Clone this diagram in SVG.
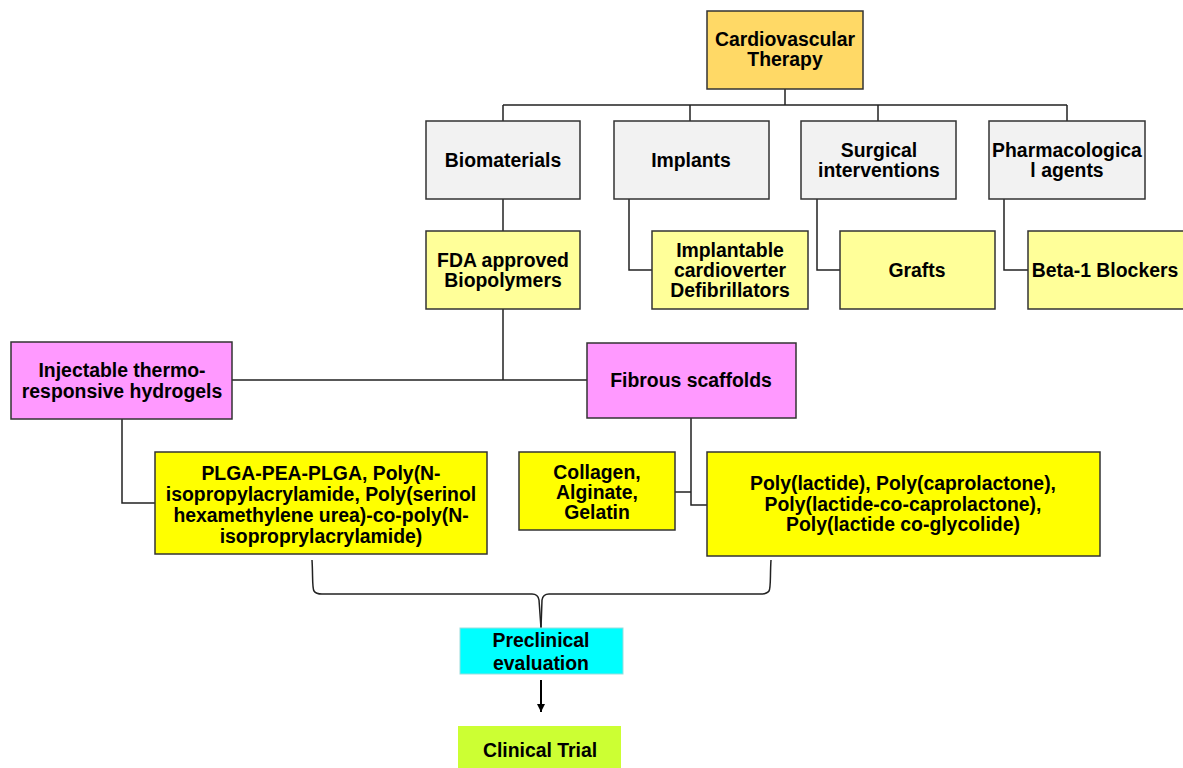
<svg xmlns="http://www.w3.org/2000/svg" width="1183" height="768" viewBox="0 0 1183 768">
<defs>
<style>
.b{stroke:#333;stroke-width:1.5}
.t{font-family:"Liberation Sans",Arial,sans-serif;font-weight:bold;font-size:19.4px;fill:#000;text-anchor:middle}
.c{fill:none;stroke:#222;stroke-width:1.5}
</style>
<marker id="ah" markerWidth="8" markerHeight="8" refX="4" refY="7" orient="auto" markerUnits="userSpaceOnUse">
<path d="M0,0 L8,0 L4,8 Z" fill="#000" transform="rotate(-90 4 4)"/>
</marker>
<marker id="arr" markerWidth="10" markerHeight="10" refX="8" refY="4" orient="auto" markerUnits="userSpaceOnUse">
<path d="M0,0 L8,4 L0,8 Z" fill="#000"/>
</marker>
</defs>
<rect width="1183" height="768" fill="#fff"/>
<g id="connectors">
<path class="c" d="M785,89 V105 M503,105 H1067 M503,105 V121 M690,105 V121 M878,105 V121 M1067,105 V121"/>
<path class="c" d="M503,199 V231"/>
<path class="c" d="M629,199 V270 H652"/>
<path class="c" d="M817,199 V270 H840"/>
<path class="c" d="M1004,199 V270 H1028"/>
<path class="c" d="M503,309 V380 M232,380 H587"/>
<path class="c" d="M122,419 V503 H155"/>
<path class="c" d="M691,418 V505 H707 M675,492 H691"/>
<path class="c" d="M312,560 C313,575 312,588 314,591 Q316,594 322,594 H532 Q538,594 539,600 L541,628"/>
<path class="c" d="M771,560 C770,575 771,588 769,591 Q767,594 761,594 H549 Q543,594 542,600 L541,628"/>
<path d="M541,680 V712" stroke="#000" stroke-width="2" fill="none" marker-end="url(#arr)"/>
</g>
<g id="cardio"><rect class="b" x="707" y="11" width="156" height="78" fill="#FFD966"/><text class="t" x="785" y="46">Cardiovascular</text><text class="t" x="785" y="66">Therapy</text></g>
<g id="biomaterials"><rect class="b" x="426" y="121" width="154" height="78" fill="#F2F2F2"/><text class="t" x="503" y="167">Biomaterials</text></g>
<g id="implants"><rect class="b" x="614" y="121" width="155" height="78" fill="#F2F2F2"/><text class="t" x="691" y="167">Implants</text></g>
<g id="surgical"><rect class="b" x="801" y="121" width="155" height="78" fill="#F2F2F2"/><text class="t" x="879" y="157">Surgical</text><text class="t" x="879" y="177">interventions</text></g>
<g id="pharma"><rect class="b" x="989" y="121" width="156" height="78" fill="#F2F2F2"/><text class="t" x="1067" y="157">Pharmacologica</text><text class="t" x="1067" y="177">l agents</text></g>
<g id="fda"><rect class="b" x="426" y="231" width="154" height="78" fill="#FFFF99"/><text class="t" x="503" y="267">FDA approved</text><text class="t" x="503" y="287">Biopolymers</text></g>
<g id="icd"><rect class="b" x="652" y="231" width="156" height="78" fill="#FFFF99"/><text class="t" x="730" y="257">Implantable</text><text class="t" x="730" y="277">cardioverter</text><text class="t" x="730" y="297">Defibrillators</text></g>
<g id="grafts"><rect class="b" x="840" y="231" width="155" height="78" fill="#FFFF99"/><text class="t" x="917" y="277">Grafts</text></g>
<g id="beta"><rect class="b" x="1028" y="231" width="157" height="78" fill="#FFFF99"/><text class="t" x="1105" y="277">Beta-1 Blockers</text></g>
<g id="hydrogels"><rect class="b" x="11" y="342" width="221" height="77" fill="#FF99FF"/><text class="t" x="122" y="377">Injectable thermo-</text><text class="t" x="122" y="398">responsive hydrogels</text></g>
<g id="fibrous"><rect class="b" x="587" y="343" width="209" height="75" fill="#FF99FF"/><text class="t" x="691" y="387">Fibrous scaffolds</text></g>
<g id="plga"><rect class="b" x="155" y="452" width="332" height="102" fill="#FFFF00"/><text class="t" x="321" y="480">PLGA-PEA-PLGA, Poly(N-</text><text class="t" x="321" y="501">isopropylacrylamide, Poly(serinol</text><text class="t" x="321" y="522">hexamethylene urea)-co-poly(N-</text><text class="t" x="321" y="543">isoproprylacrylamide)</text></g>
<g id="collagen"><rect class="b" x="519" y="452" width="156" height="78" fill="#FFFF00"/><text class="t" x="597" y="479">Collagen,</text><text class="t" x="597" y="499">Alginate,</text><text class="t" x="597" y="519">Gelatin</text></g>
<g id="polylactide"><rect class="b" x="707" y="452" width="393" height="104" fill="#FFFF00"/><text class="t" x="903" y="490">Poly(lactide), Poly(caprolactone),</text><text class="t" x="903" y="511">Poly(lactide-co-caprolactone),</text><text class="t" x="903" y="531">Poly(lactide co-glycolide)</text></g>
<g id="preclinical"><rect x="460" y="628" width="163" height="46" fill="#00FFFF" stroke="#9DD" stroke-width="1"/><text class="t" x="541" y="647">Preclinical</text><text class="t" x="541" y="670">evaluation</text></g>
<g id="clinical"><rect x="458" y="726" width="163" height="42" fill="#CCFF33"/><text class="t" x="540" y="757">Clinical Trial</text></g>
</svg>
